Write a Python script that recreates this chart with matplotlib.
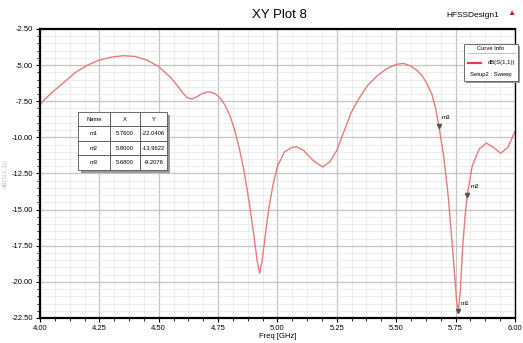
import matplotlib
matplotlib.use('Agg')
import matplotlib.pyplot as plt
from matplotlib.ticker import MultipleLocator, AutoMinorLocator
from matplotlib.patches import Rectangle
from matplotlib.lines import Line2D

plt.rcParams['font.family'] = ['Liberation Sans', 'DejaVu Sans']

# S11 curve
freq = [4.00, 4.05, 4.10, 4.15, 4.20, 4.25, 4.30, 4.35, 4.40, 4.45,
        4.50, 4.55, 4.58, 4.60, 4.62, 4.64, 4.66, 4.68, 4.70, 4.72,
        4.74, 4.76, 4.78, 4.80, 4.82, 4.84, 4.86, 4.88, 4.90, 4.915,
        4.925, 4.935, 4.95, 4.965, 4.98, 5.00, 5.03, 5.06, 5.08, 5.11,
        5.15, 5.19, 5.22, 5.25, 5.28, 5.31, 5.34, 5.38, 5.42, 5.46,
        5.50, 5.53, 5.56, 5.59, 5.61, 5.63, 5.65, 5.665, 5.68, 5.70,
        5.72, 5.74, 5.755, 5.762, 5.77, 5.78, 5.79, 5.80, 5.82, 5.85,
        5.88, 5.91, 5.94, 5.97, 6.00]
s11 = [-7.7, -6.9, -6.2, -5.5, -5.0, -4.65, -4.45, -4.35, -4.4, -4.65,
       -5.1, -5.85, -6.45, -6.9, -7.25, -7.35, -7.2, -7.0, -6.87, -6.87,
       -7.0, -7.3, -7.8, -8.5, -9.5, -10.8, -12.4, -14.4, -16.7, -18.6,
       -19.4, -18.6, -16.6, -14.8, -13.4, -12.0, -11.0, -10.7, -10.65, -10.9,
       -11.6, -12.05, -11.7, -10.9, -9.6, -8.3, -7.4, -6.4, -5.75, -5.25,
       -4.95, -4.88, -5.05, -5.4, -5.75, -6.3, -7.0, -7.9, -9.2076, -11.3,
       -14.2, -18.2, -21.4, -22.0406, -20.6, -17.6, -15.5, -13.9622, -12.0, -10.8,
       -10.4, -10.7, -11.1, -10.7, -9.6]

marker_names = ['m1', 'm2', 'm3']
marker_x = [5.7600, 5.8000, 5.6800]
marker_y = [-22.0406, -13.9622, -9.2076]

fig = plt.figure(figsize=(5.23, 3.43), dpi=100)
ax = fig.add_axes([0.0765, 0.0729, 0.908, 0.8426])

ax.plot(freq, s11, color='#e77a7a', lw=1.0)

ax.set_xlim(4.0, 6.0)
ax.set_ylim(-22.5, -2.5)
ax.xaxis.set_major_locator(MultipleLocator(0.25))
ax.yaxis.set_major_locator(MultipleLocator(2.5))
ax.xaxis.set_minor_locator(AutoMinorLocator(4))
ax.yaxis.set_minor_locator(AutoMinorLocator(5))
ax.xaxis.set_major_formatter(plt.FuncFormatter(lambda v, p: '%.2f' % v))
ax.yaxis.set_major_formatter(plt.FuncFormatter(lambda v, p: '%.2f' % v))
ax.grid(which='major', color='#c4c4c4', lw=0.9)
ax.grid(which='minor', color='#e6e6e6', lw=0.5)
ax.set_axisbelow(True)
ax.tick_params(which='major', labelsize=5.5, length=3, width=0.8, pad=2)
ax.tick_params(which='minor', length=2, width=0.6)
for s in ax.spines.values():
    s.set_linewidth(1.6)
    s.set_color('black')
ax.spines['right'].set_linewidth(1.0)

ax.set_xlabel('Freq [GHz]', fontsize=5.5, labelpad=1)
ax.set_ylabel('dB(S(1,1))', fontsize=4.5, color='#bbbbbb', labelpad=3)

fig.text(0.535, 0.955, 'XY Plot 8', fontsize=9.5, ha='center', va='center')
fig.text(0.955, 0.955, 'HFSSDesign1', fontsize=6, ha='right', va='center')
fig.text(0.978, 0.96, '\u25b2', fontsize=6, color='#cc2222', ha='center', va='center')

# markers
for name, mx, my in zip(marker_names, marker_x, marker_y):
    ax.plot(mx, my, marker='v', ms=3, color='#555555', mec='#555555', zorder=4)
    ax.annotate(name, (mx, my), xytext=(2, 4), textcoords='offset points',
                fontsize=4.5, ha='left', va='bottom', zorder=5)

# marker table
rows = [['Name', 'X', 'Y']] + [[n, '%.4f' % x, '%.4f' % y]
                               for n, x, y in zip(marker_names, marker_x, marker_y)]
tx, ty, tw, th = 0.08, 0.512, 0.187, 0.201
ax.add_patch(Rectangle((tx + 0.006, ty - 0.012), tw, th, transform=ax.transAxes,
                       facecolor='#999999', edgecolor='none', zorder=5))
tbl = ax.table(cellText=rows, bbox=[tx, ty, tw, th], cellLoc='center',
               colWidths=[0.36, 0.34, 0.30], zorder=6)
tbl.auto_set_font_size(False)
tbl.set_fontsize(4.2)
for cell in tbl.get_celld().values():
    cell.set_linewidth(0.6)
    cell.set_edgecolor('#555555')
    cell.set_facecolor('white')

# curve info box
lx, ly, lw_, lh = 0.887, 0.765, 0.103, 0.108
fig.patches.append(Rectangle((lx + 0.004, ly - 0.008), lw_, lh, transform=fig.transFigure,
                             facecolor='#999999', edgecolor='none', zorder=5))
fig.patches.append(Rectangle((lx, ly), lw_, lh, transform=fig.transFigure,
                             facecolor='white', edgecolor='#555555', lw=0.6, zorder=6))
fig.lines.append(Line2D([lx + 0.006, lx + 0.100], [ly + 0.080, ly + 0.080],
                        transform=fig.transFigure, color='#aaaaaa', lw=0.5, zorder=7))
fig.text(lx + lw_ / 2, ly + 0.094, 'Curve Info', fontsize=4.2, ha='center', va='center', zorder=7)
fig.lines.append(Line2D([lx + 0.008, lx + 0.033], [ly + 0.052, ly + 0.052],
                        transform=fig.transFigure, color='#e04040', lw=1.6, zorder=7))
fig.text(lx + 0.098, ly + 0.052, 'dB(S(1,1))', fontsize=4.2, ha='right', va='center', zorder=7)
fig.text(lx + lw_ / 2, ly + 0.018, 'Setup2 : Sweep', fontsize=4.2, ha='center', va='center', zorder=7)

fig.savefig('out.png', dpi=100)
